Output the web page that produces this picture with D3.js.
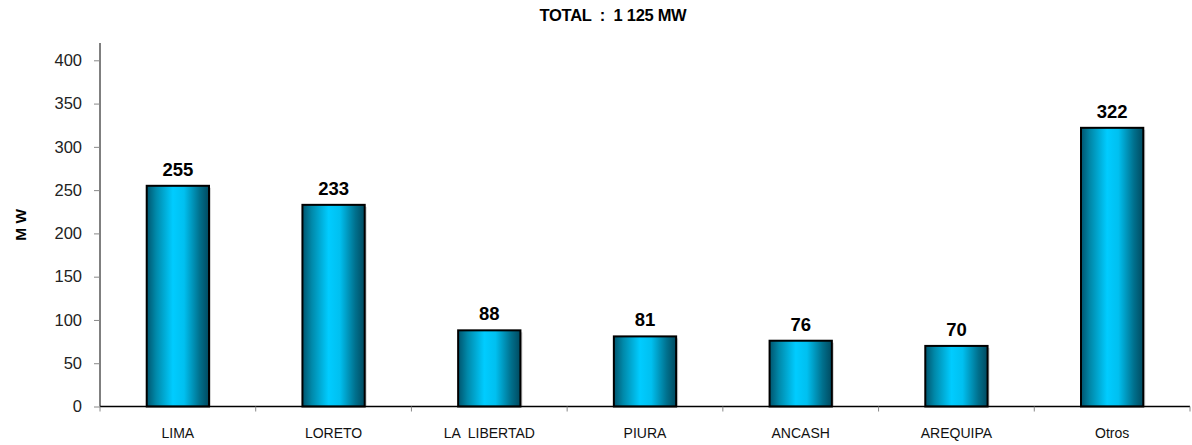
<!DOCTYPE html>
<html><head><meta charset="utf-8">
<script src="https://cdn.jsdelivr.net/npm/d3@7"></script>
<style>body{margin:0;background:#fff;} text{font-family:"Liberation Sans",Arial,sans-serif; white-space:pre;}</style>
</head><body>
<svg id="c" width="1192" height="445"></svg>
<script>
const categories = ["LIMA","LORETO","LA  LIBERTAD","PIURA","ANCASH","AREQUIPA","Otros"];
const values = [255,233,88,81,76,70,322];
const yTicks = [0,50,100,150,200,250,300,350,400];
const title = "TOTAL  :  1 125 MW";
const yTitle = "M W";

const svg = d3.select("#c");
const m = {l:100, r:2, t:43, b:38.5};
const W = 1192, H = 445;
const x = d3.scaleBand().domain(categories).range([m.l, W - m.r]).paddingInner(0.6).paddingOuter(0.3);
const y = d3.scaleLinear().domain([0,420]).range([H - m.b, m.t]);

const defs = svg.append("defs");
const g = defs.append("linearGradient").attr("id","bg").attr("x1","0").attr("x2","1").attr("y1","0").attr("y2","0");
[[0,"#00556e"],[0.15,"#0089aa"],[0.42,"#00ccff"],[0.6,"#00c0f0"],[0.85,"#00708d"],[1,"#004a60"]]
  .forEach(([o,c])=>g.append("stop").attr("offset",o).attr("stop-color",c));

// title
svg.append("text").attr("x",613).attr("y",21).attr("text-anchor","middle")
  .attr("font-weight","bold").attr("font-size",16.5).attr("letter-spacing",-0.3).attr("xml:space","preserve").text(title);
svg.append("text").attr("transform","translate(26,"+((H-m.b+m.t)/2)+") rotate(-90)")
  .attr("text-anchor","middle").attr("font-weight","bold").attr("font-size",15.5).text(yTitle);

// bars shadow
svg.selectAll("rect.sh").data(values).join("rect").attr("class","sh")
  .attr("x",(d,i)=>x(categories[i])+2).attr("y",d=>y(d)+2)
  .attr("width",x.bandwidth()).attr("height",d=>y(0)-y(d)-2).attr("fill","#d4d4d4");
svg.selectAll("rect.bar").data(values).join("rect").attr("class","bar")
  .attr("x",(d,i)=>x(categories[i])).attr("y",d=>y(d))
  .attr("width",x.bandwidth()).attr("height",d=>y(0)-y(d))
  .attr("fill","url(#bg)").attr("stroke","#000").attr("stroke-width",2);

svg.selectAll("text.lbl").data(values).join("text").attr("class","lbl")
  .attr("x",(d,i)=>x(categories[i])+x.bandwidth()/2).attr("y",d=>y(d)-10)
  .attr("text-anchor","middle").attr("font-weight","bold").attr("font-size",18.5).text(d=>d);

// y axis
const ya = svg.append("g").attr("transform",`translate(${m.l},0)`)
  .call(d3.axisLeft(y).tickValues(yTicks).tickSize(6).tickPadding(12));
ya.select(".domain").attr("stroke","#000").attr("d",`M0,${m.t}V${y(0)}`);
ya.selectAll(".tick line").attr("stroke","#888");
ya.selectAll(".tick text").attr("font-size",16.5).attr("fill","#222").attr("font-family","Liberation Sans, Arial, sans-serif");

// x axis
const xa = svg.append("g").attr("transform",`translate(0,${y(0)})`);
xa.append("line").attr("x1",m.l).attr("x2",W-m.r).attr("stroke","#000").attr("stroke-width",1.3);
const bounds = d3.range(categories.length+1).map(i=>m.l + (W-m.r-m.l)*i/categories.length);
xa.selectAll("line.t").data(bounds).join("line").attr("class","t")
  .attr("x1",d=>d).attr("x2",d=>d).attr("y1",0).attr("y2",5).attr("stroke","#888");
xa.selectAll("text").data(categories).join("text")
  .attr("x",d=>x(d)+x.bandwidth()/2).attr("y",31).attr("text-anchor","middle")
  .attr("font-size",14).attr("fill","#111").attr("xml:space","preserve").text(d=>d);
</script>
</body></html>
